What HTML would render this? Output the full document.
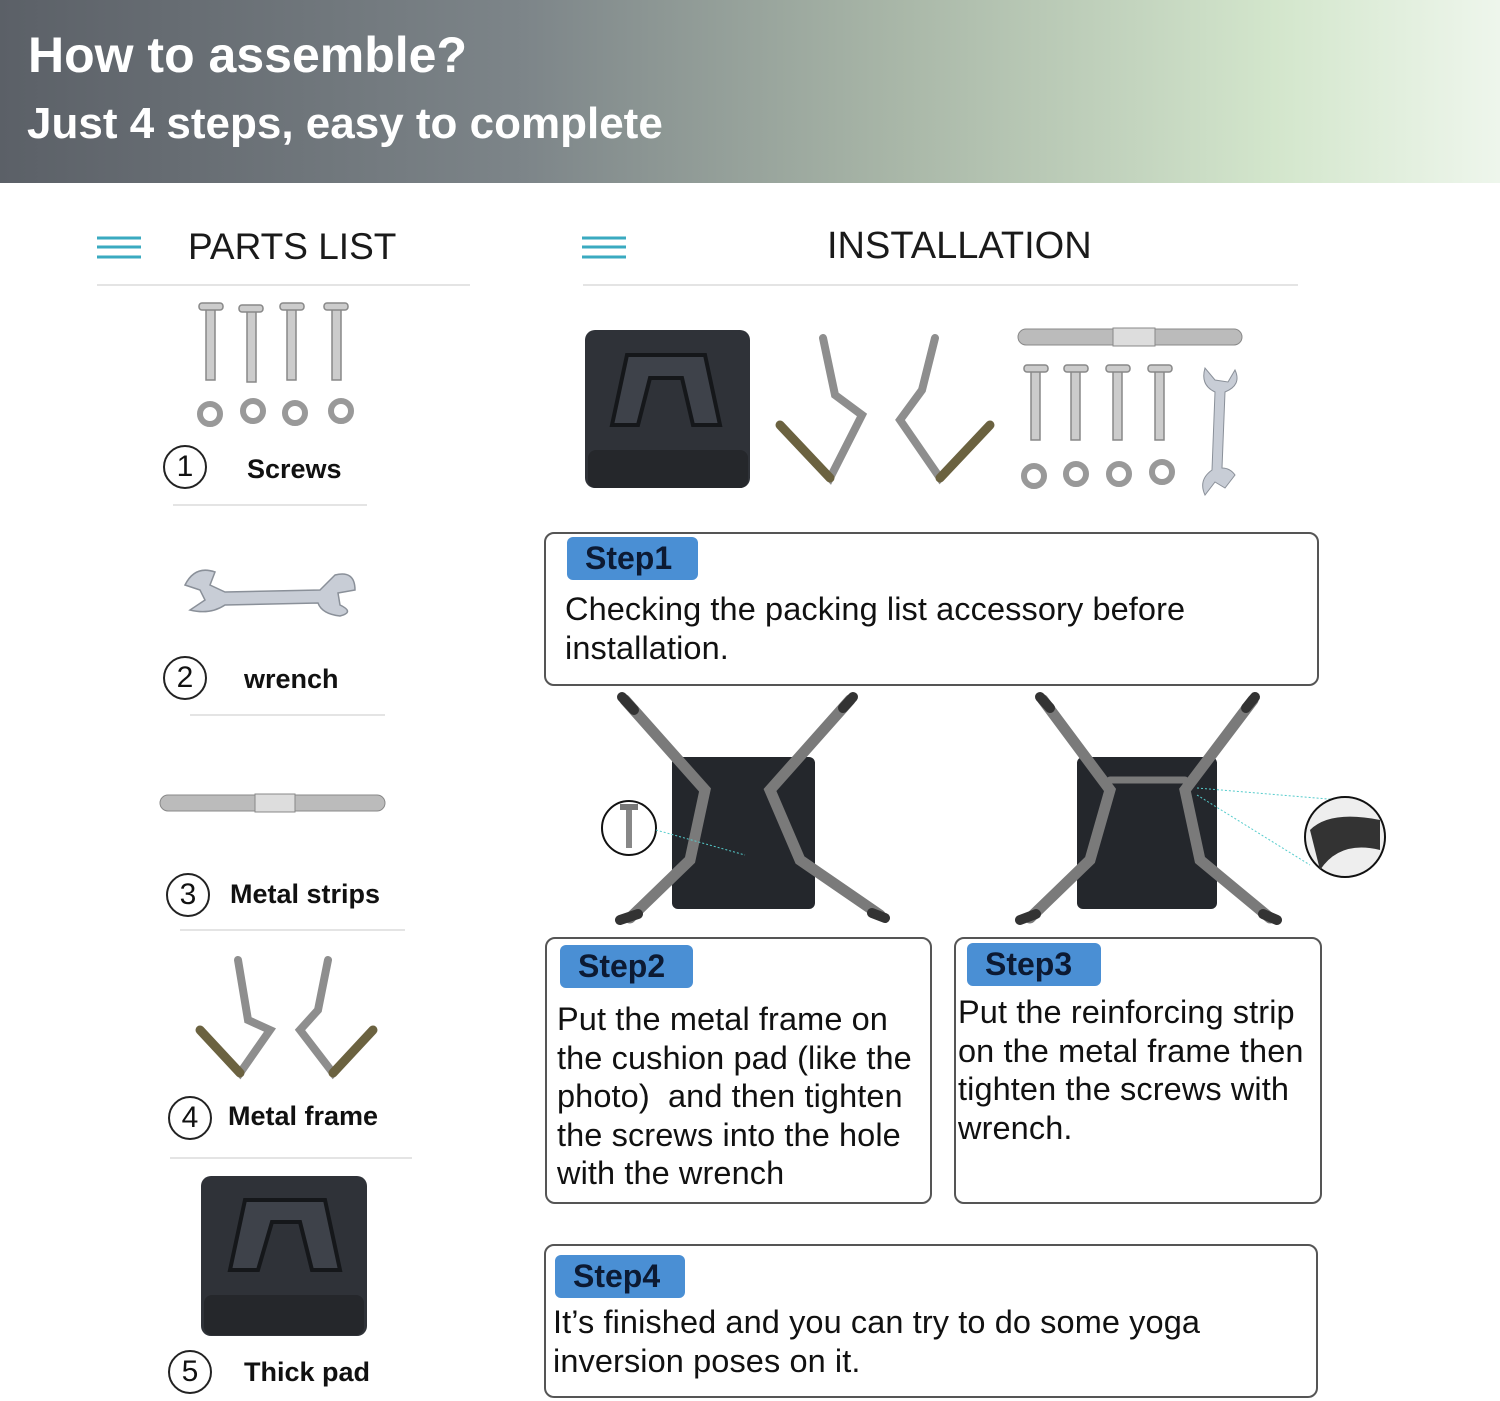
<!DOCTYPE html>
<html><head><meta charset="utf-8"><style>
*{margin:0;padding:0;box-sizing:border-box}
body{width:1500px;height:1401px;position:relative;background:#fff;font-family:"Liberation Sans",sans-serif;overflow:hidden;color:#111}
.t{position:absolute;white-space:nowrap;line-height:1}
.hdr{position:absolute;left:0;top:0;width:1500px;height:183px;background:linear-gradient(90deg,#5b6067 0%,#7d8589 35%,#a9b7a8 60%,#d3e6cc 85%,#eef6ec 100%)}
.box{position:absolute;border:2px solid #555;border-radius:10px;background:#fff}
.lab{position:absolute;background:#4a8fd4;border-radius:6px;font-weight:bold;font-size:32px;color:#0c1a33;padding-left:18px;line-height:43px}
.txt{position:absolute;font-size:32.5px;line-height:38.5px;color:#111;letter-spacing:0.1px;white-space:nowrap}
.b{font-weight:bold;font-size:27px}
.circ{position:absolute;width:44px;height:44px;border:2px solid #222;border-radius:50%;font-size:30px;text-align:center;line-height:40px}
.ln{position:absolute;height:2px;background:#e4e4e4}
</style></head><body>
<div class="hdr"></div>
<div class="t" style="left:28px;top:30px;font-size:50px;font-weight:bold;color:#fff">How to assemble?</div>
<div class="t" style="left:27px;top:102px;font-size:44px;font-weight:bold;color:#fff">Just 4 steps, easy to complete</div>

<svg style="position:absolute;left:0;top:0" width="1500" height="1401">
<g stroke="#3aaac0" stroke-width="3">
<line x1="97" y1="238" x2="141" y2="238"/><line x1="97" y1="247" x2="141" y2="247"/><line x1="97" y1="257" x2="141" y2="257"/>
<line x1="582" y1="238" x2="626" y2="238"/><line x1="582" y1="247" x2="626" y2="247"/><line x1="582" y1="257" x2="626" y2="257"/>
</g>
<g fill="#ccc" stroke="#888" stroke-width="1.5">
<rect x="206" y="308" width="9" height="72"/><rect x="247" y="310" width="9" height="72"/><rect x="287" y="308" width="9" height="72"/><rect x="332" y="308" width="9" height="72"/>
<rect x="199" y="303" width="24" height="7" rx="3"/><rect x="239" y="305" width="24" height="7" rx="3"/><rect x="280" y="303" width="24" height="7" rx="3"/><rect x="324" y="303" width="24" height="7" rx="3"/>
</g>
<g fill="none" stroke="#999" stroke-width="6">
<circle cx="210" cy="414" r="10"/><circle cx="253" cy="411" r="10"/><circle cx="295" cy="413" r="10"/><circle cx="341" cy="411" r="10"/>
</g>
<path d="M185 585 Q195 565 215 572 L210 585 L225 592 L320 590 L335 575 Q355 570 355 590 L338 593 L340 605 Q355 612 340 616 Q322 614 318 603 L225 605 Q210 615 190 610 L205 600 L200 590 Z" fill="#c8cdd6" stroke="#8a9099" stroke-width="1.5"/>
<rect x="160" y="795" width="225" height="16" rx="8" fill="#bbb" stroke="#888"/>
<rect x="255" y="794" width="40" height="18" fill="#ddd" stroke="#888"/>
<g fill="none" stroke-linecap="round">
<path d="M238 960 L248 1020 L270 1030 L240 1073 L200 1030" stroke="#8e8e8e" stroke-width="8"/>
<path d="M328 960 L318 1010 L300 1030 L333 1073 L373 1030" stroke="#8e8e8e" stroke-width="8"/>
<path d="M200 1030 L240 1073" stroke="#6b6240" stroke-width="9"/>
<path d="M373 1030 L333 1073" stroke="#6b6240" stroke-width="9"/>
</g>
<rect x="201" y="1176" width="166" height="160" rx="10" fill="#2f3238"/>
<path d="M230 1270 L245 1200 L325 1200 L340 1270 L312 1270 L300 1222 L272 1222 L258 1270 Z" fill="#3e424a" stroke="#15171a" stroke-width="4"/>
<rect x="204" y="1295" width="160" height="40" rx="8" fill="#25272b"/>

<rect x="585" y="330" width="165" height="158" rx="10" fill="#2f3238"/>
<path d="M612 425 L627 355 L705 355 L720 425 L693 425 L682 378 L650 378 L638 425 Z" fill="#3e424a" stroke="#15171a" stroke-width="4"/>
<rect x="588" y="450" width="160" height="38" rx="8" fill="#25272b"/>
<g fill="none" stroke-linecap="round">
<path d="M823 338 L835 395 L862 415 L830 478 L780 425" stroke="#8e8e8e" stroke-width="8"/>
<path d="M935 338 L922 390 L900 420 L940 478 L990 425" stroke="#8e8e8e" stroke-width="8"/>
<path d="M780 425 L830 478" stroke="#6b6240" stroke-width="9"/><path d="M990 425 L940 478" stroke="#6b6240" stroke-width="9"/>
</g>
<rect x="1018" y="329" width="224" height="16" rx="8" fill="#bbb" stroke="#888"/>
<rect x="1113" y="328" width="42" height="18" fill="#ddd" stroke="#888"/>
<g fill="#ccc" stroke="#888" stroke-width="1.5">
<rect x="1031" y="370" width="9" height="70"/><rect x="1071" y="370" width="9" height="70"/><rect x="1113" y="370" width="9" height="70"/><rect x="1155" y="370" width="9" height="70"/>
<rect x="1024" y="365" width="24" height="7" rx="3"/><rect x="1064" y="365" width="24" height="7" rx="3"/><rect x="1106" y="365" width="24" height="7" rx="3"/><rect x="1148" y="365" width="24" height="7" rx="3"/>
</g>
<g fill="none" stroke="#999" stroke-width="6">
<circle cx="1034" cy="476" r="10"/><circle cx="1076" cy="474" r="10"/><circle cx="1119" cy="474" r="10"/><circle cx="1162" cy="472" r="10"/>
</g>
<path d="M1205 368 Q1200 385 1215 392 L1212 470 Q1198 480 1205 495 L1215 482 L1225 488 L1235 475 Q1230 468 1222 468 L1225 392 Q1242 385 1235 370 L1228 382 L1215 380 Z" fill="#c8cdd6" stroke="#8a9099"/>

<rect x="672" y="757" width="143" height="152" rx="6" fill="#24272c"/>
<g fill="none" stroke="#7a7a7a" stroke-width="11" stroke-linecap="round">
<path d="M625 700 L705 790 L690 860 L630 918"/>
<path d="M850 700 L770 790 L800 860 L880 915"/>
</g>
<g stroke="#333" stroke-width="10" stroke-linecap="round"><path d="M622 697 L634 710"/><path d="M853 697 L843 708"/><path d="M620 920 L638 914"/><path d="M872 913 L885 918"/></g>
<circle cx="629" cy="828" r="27" fill="#fff" stroke="#111" stroke-width="2"/>
<rect x="626" y="808" width="6" height="40" fill="#888"/><rect x="620" y="804" width="18" height="6" fill="#777"/>
<line x1="656" y1="830" x2="745" y2="855" stroke="#5cc" stroke-dasharray="2 2"/>
<rect x="1077" y="757" width="140" height="152" rx="6" fill="#24272c"/>
<g fill="none" stroke="#7a7a7a" stroke-width="11" stroke-linecap="round">
<path d="M1043 700 L1110 790 L1090 860 L1030 918"/>
<path d="M1253 700 L1185 790 L1200 860 L1270 918"/>
<path d="M1110 780 L1185 780" stroke-width="7"/>
</g>
<g stroke="#333" stroke-width="10" stroke-linecap="round"><path d="M1040 697 L1050 708"/><path d="M1255 697 L1246 708"/><path d="M1020 920 L1036 914"/><path d="M1263 914 L1277 920"/></g>
<line x1="1197" y1="788" x2="1340" y2="800" stroke="#5cc" stroke-dasharray="2 2"/>
<line x1="1197" y1="795" x2="1310" y2="865" stroke="#5cc" stroke-dasharray="2 2"/>
<circle cx="1345" cy="837" r="40" fill="#eee" stroke="#111" stroke-width="2"/>
<path d="M1310 830 Q1330 810 1380 820 L1380 850 Q1340 840 1320 870 Z" fill="#333"/>
</svg>

<div class="t" style="left:188px;top:228px;font-size:37px;color:#1a1a1a">PARTS LIST</div>
<div class="t" style="left:827px;top:227px;font-size:38px;color:#1a1a1a">INSTALLATION</div>
<div class="ln" style="left:97px;top:284px;width:373px"></div>
<div class="ln" style="left:583px;top:284px;width:715px"></div>

<div class="circ" style="left:163px;top:445px">1</div><div class="t b" style="left:247px;top:456px">Screws</div>
<div class="ln" style="left:173px;top:504px;width:194px"></div>
<div class="circ" style="left:163px;top:656px">2</div><div class="t b" style="left:244px;top:666px">wrench</div>
<div class="ln" style="left:190px;top:714px;width:195px"></div>
<div class="circ" style="left:166px;top:873px">3</div><div class="t b" style="left:230px;top:881px">Metal strips</div>
<div class="ln" style="left:180px;top:929px;width:225px"></div>
<div class="circ" style="left:168px;top:1096px">4</div><div class="t b" style="left:228px;top:1103px">Metal frame</div>
<div class="ln" style="left:170px;top:1157px;width:242px"></div>
<div class="circ" style="left:168px;top:1350px">5</div><div class="t b" style="left:244px;top:1359px">Thick pad</div>

<div class="box" style="left:544px;top:532px;width:775px;height:154px"></div>
<div class="lab" style="left:567px;top:537px;width:131px">Step1</div>
<div class="txt" style="left:565px;top:590px">Checking the packing list accessory before<br>installation.</div>

<div class="box" style="left:545px;top:937px;width:387px;height:267px"></div>
<div class="lab" style="left:560px;top:945px;width:133px">Step2</div>
<div class="txt" style="left:557px;top:1000px">Put the metal frame on<br>the cushion pad (like the<br>photo)&nbsp; and then tighten<br>the screws into the hole<br>with the wrench</div>

<div class="box" style="left:954px;top:937px;width:368px;height:267px"></div>
<div class="lab" style="left:967px;top:943px;width:134px">Step3</div>
<div class="txt" style="left:958px;top:993px">Put the reinforcing strip<br>on the metal frame then<br>tighten the screws with<br>wrench.</div>

<div class="box" style="left:544px;top:1244px;width:774px;height:154px"></div>
<div class="lab" style="left:555px;top:1255px;width:130px">Step4</div>
<div class="txt" style="left:553px;top:1303px">It’s finished and you can try to do some yoga<br>inversion poses on it.</div>
</body></html>
